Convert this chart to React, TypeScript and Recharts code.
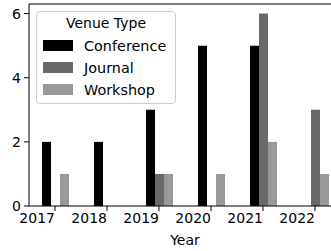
import { BarChart, Bar, XAxis, YAxis, ReferenceLine } from "recharts";

const years = ["2017", "2018", "2019", "2020", "2021", "2022"];
const conference = [2, 2, 3, 5, 5, 0];
const journal = [0, 0, 1, 0, 6, 3];
const workshop = [1, 0, 1, 1, 2, 1];

const SERIES = [
  { key: "Conference", color: "#000000" },
  { key: "Journal", color: "#696969" },
  { key: "Workshop", color: "#999999" },
];

const data = years.map((year, i) => ({
  year,
  Conference: conference[i],
  Journal: journal[i],
  Workshop: workshop[i],
}));

// matplotlib-like labels: right aligned at the tick
const YearTick = ({ x, y, payload }: any) => (
  <text x={x} y={y} dy="0.71em" textAnchor="end" fontSize={14} fill="#000">
    {payload.value}
  </text>
);

const VenueLegend = () => (
  <div
    style={{
      position: "absolute",
      left: 36,
      top: 11,
      boxSizing: "border-box",
      width: 140,
      border: "1px solid #cccccc",
      borderRadius: 4,
      background: "rgba(255,255,255,0.8)",
      padding: "0 6px 2px 6px",
    }}
  >
    <div style={{ textAlign: "center", fontSize: 14, lineHeight: "22.5px" }}>Venue Type</div>
    {SERIES.map((s) => (
      <div
        key={s.key}
        style={{ display: "flex", alignItems: "center", height: 22, fontSize: 14.4, lineHeight: "22px" }}
      >
        <span
          style={{
            display: "inline-block",
            width: 30,
            height: 11,
            background: s.color,
            marginRight: 11,
          }}
        ></span>
        {s.key}
      </div>
    ))}
  </div>
);

export default function App() {
  return (
    <div
      style={{
        position: "absolute",
        left: 0,
        top: 0,
        width: 331,
        height: 251,
        overflow: "hidden",
        fontFamily: "'DejaVu Sans', sans-serif",
        background: "#fff",
      }}
    >
      <BarChart
        width={345}
        height={251}
        data={data}
        margin={{ top: 4, right: 4, left: 0, bottom: 0 }}
        barGap={0}
        barCategoryGap="25%"
      >
        <XAxis
          dataKey="year"
          height={45}
          tick={<YearTick />}
          tickSize={5}
          tickMargin={2}
          stroke="#000"
          label={{ value: "Year", position: "insideBottom", offset: 6, fill: "#000", fontSize: 14 }}
        />
        <YAxis
          width={29}
          domain={[0, 6.3]}
          ticks={[0, 2, 4, 6]}
          tickSize={5}
          tickMargin={3}
          stroke="#000"
          tick={{ fill: "#000", fontSize: 14 }}
          allowDataOverflow
        />
        <ReferenceLine y={6.3} stroke="#000" />
        {SERIES.map((s) => (
          <Bar key={s.key} dataKey={s.key} fill={s.color} isAnimationActive={false} />
        ))}
      </BarChart>
      <VenueLegend />
    </div>
  );
}
